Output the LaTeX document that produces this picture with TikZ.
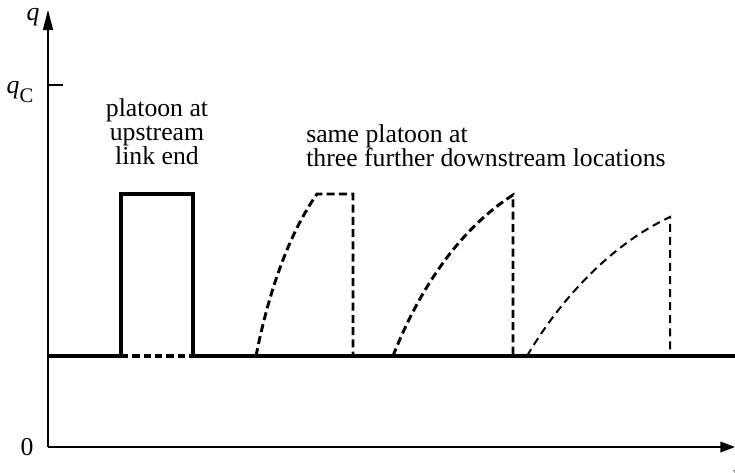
\documentclass[tikz,border=0pt]{standalone}
\usepackage{fontspec}
\setmainfont{Liberation Serif}
\usetikzlibrary{arrows.meta}
\begin{document}
\begin{tikzpicture}[x=0.75pt,y=-0.75pt,
  axis/.style={line width=1.1pt},
  base/.style={line width=3pt},
  platoon/.style={line width=2.8pt},
  dsh/.style={line width=2.2pt,dash pattern=on 6pt off 3.2pt},
  dshthin/.style={line width=1.5pt,dash pattern=on 6pt off 3.8pt},
  txt/.style={inner sep=0pt,font=\fontsize{19.3}{18}\selectfont,anchor=base}]
\useasboundingbox (0,0) rectangle (735,472);
% axes
\coordinate (O) at (48,447);
\coordinate (ytip) at (48,10);
\coordinate (xtip) at (735,447);
\draw[axis,-{Triangle[length=15pt,width=7.5pt]}] (O) -- (ytip);
\draw[axis,-{Triangle[length=11pt,width=8pt]}] (O) -- (xtip);
\coordinate (qc) at (48,85);
\coordinate (qce) at (63,85);
\draw[axis] (qc) -- (qce);
\node[txt] (ql) at (33,20) {\textit{q}};
\node[txt] (qcl) at (20,93) {\textit{q}\raisebox{-0.35em}{\fontsize{15.5}{15.5}\selectfont C}};
\node[txt] (zero) at (27,455) {0};
\node[txt,anchor=north west] (tl) at (732,468) {\textit{t}};
% baseline
\coordinate (b0) at (48,356);
\coordinate (r1) at (121,356);
\coordinate (r2) at (193,356);
\coordinate (bend) at (735,356);
\coordinate (r1t) at (121,194);
\coordinate (r2t) at (193,194);
\draw[base] (b0) -- (r1);
\draw[base] (r2) -- (bend);
\draw[platoon,line join=miter] (r1) -- (r1t) -- (r2t) -- (r2);
\draw[line width=2.4pt,dash pattern=on 5.5pt off 3pt] (r1) -- (r2);
% platoon 2
\coordinate (a0) at (256,356);
\coordinate (a1) at (317,194);
\coordinate (a2) at (353,194);
\coordinate (a3) at (353,356);
\draw[dsh] (a0) .. controls (268,295) and (288,235) .. (a1) -- (a2) -- (a3);
% platoon 3
\coordinate (c0) at (393,356);
\coordinate (c1) at (513,195);
\coordinate (c2) at (513,356);
\draw[dsh] (c0) .. controls (418,292) and (458,230) .. (c1) -- (c2);
% platoon 4
\coordinate (d0) at (527,356);
\coordinate (d1) at (670,217);
\coordinate (d2) at (670,356);
\draw[dshthin] (d0) .. controls (560,300) and (610,245) .. (d1) -- (d2);
% labels
\node[txt,align=center] (t1) at (157,164) {platoon at\\upstream\\link end};
\node[txt,align=left,anchor=base west] (t2) at (306,166) {same platoon at\\three further downstream locations};
\end{tikzpicture}
\end{document}
